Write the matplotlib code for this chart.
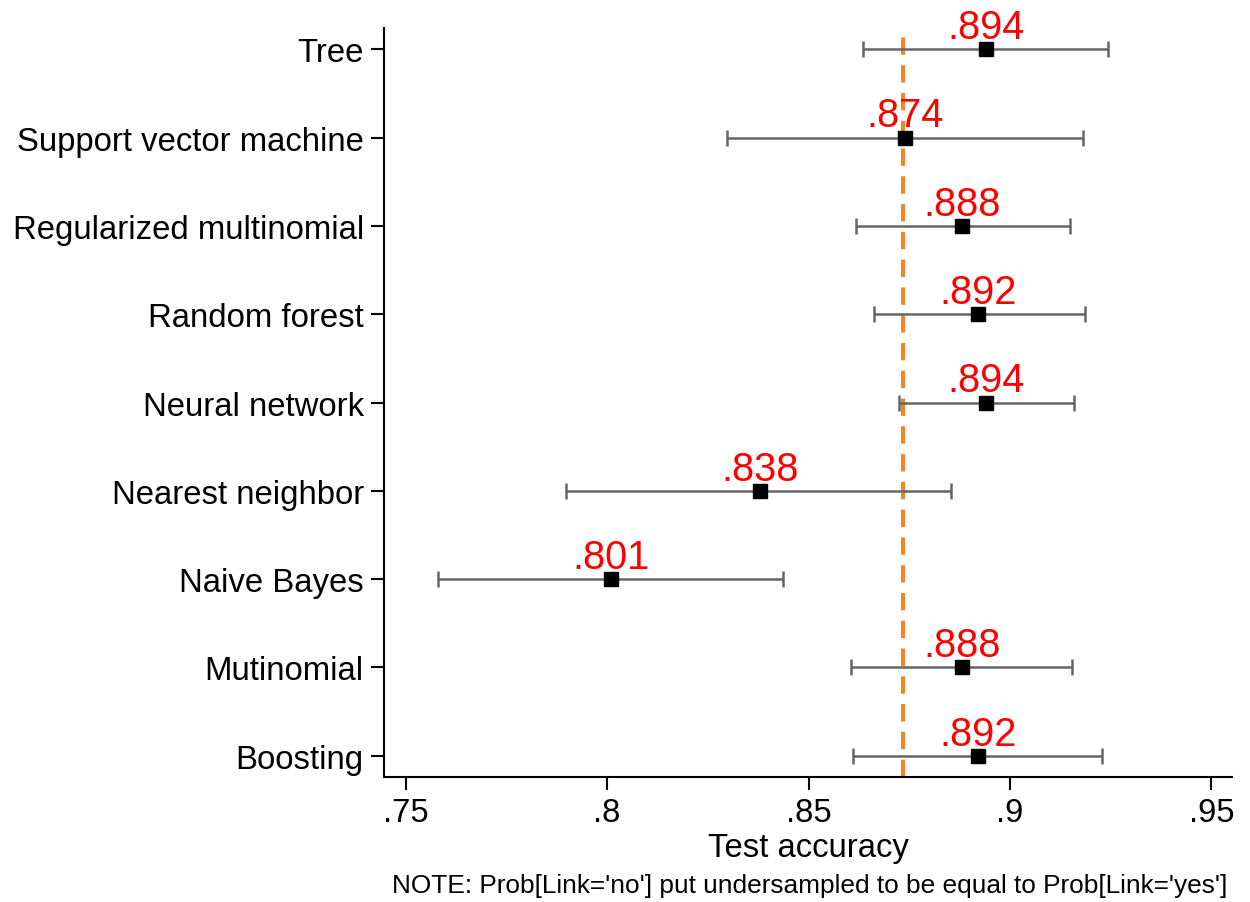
import matplotlib
matplotlib.use("Agg")
import matplotlib.pyplot as plt
import numpy as np

# data (top to bottom)
models = ["Tree", "Support vector machine", "Regularized multinomial",
          "Random forest", "Neural network", "Nearest neighbor",
          "Naive Bayes", "Mutinomial", "Boosting"]
accuracy = [0.894, 0.874, 0.888, 0.892, 0.894, 0.838, 0.801, 0.888, 0.892]
ci_low = [0.8634, 0.8298, 0.8617, 0.8663, 0.8724, 0.7897, 0.7579, 0.8605, 0.8611]
ci_high = [0.9243, 0.9181, 0.9150, 0.9187, 0.9160, 0.8853, 0.8437, 0.9153, 0.9229]
xticks = [0.75, 0.80, 0.85, 0.90, 0.95]
xtick_labels = [".75", ".8", ".85", ".9", ".95"]

plt.rcParams['font.family'] = ['Liberation Sans', 'DejaVu Sans']
plt.rcParams['lines.scale_dashes'] = False

fig = plt.figure(figsize=(12.5, 9.03), dpi=100)
ax = fig.add_axes([0.3072, 0.1384, 0.6784, 0.8295])

acc = np.array(accuracy)
lo = np.array(ci_low)
hi = np.array(ci_high)
ypos = np.arange(len(models))[::-1] + 1

# mean accuracy reference line
ax.axvline(acc.mean(), color='#f7841f', lw=2.9, dashes=(12.5, 7.5), zorder=1)

ax.errorbar(acc, ypos, xerr=[acc - lo, hi - acc], fmt='none',
            ecolor='#666666', elinewidth=1.8, capsize=6.1, capthick=1.8, zorder=2)
ax.plot(acc, ypos, 's', color='black', markersize=10, zorder=3)

for a, y in zip(acc, ypos):
    ax.annotate(f"{a:.3f}"[1:], (a, y), xytext=(0, 8), textcoords='offset points',
                ha='center', va='baseline', color='#ff0000', fontsize=28.6, zorder=4)

ax.set_xlim(0.7446, 0.9551)
ax.set_ylim(0.76, 9.24)
ax.set_xticks(xticks)
ax.set_xticklabels(xtick_labels)
ax.set_yticks(ypos)
ax.set_yticklabels(models)
ax.tick_params(axis='both', labelsize=23.7, width=1.5, length=9.5, direction='out')
ax.tick_params(axis='y', pad=5)
ax.tick_params(axis='x', pad=5)

for s in ['top', 'right']:
    ax.spines[s].set_visible(False)
for s in ['left', 'bottom']:
    ax.spines[s].set_linewidth(1.5)

ax.set_xlabel("Test accuracy", fontsize=23.7, labelpad=3)
fig.text(0.982, 0.006, "NOTE: Prob[Link='no'] put undersampled to be equal to Prob[Link='yes']",
         ha='right', va='bottom', fontsize=18.9)

fig.savefig("out.png", dpi=100)
